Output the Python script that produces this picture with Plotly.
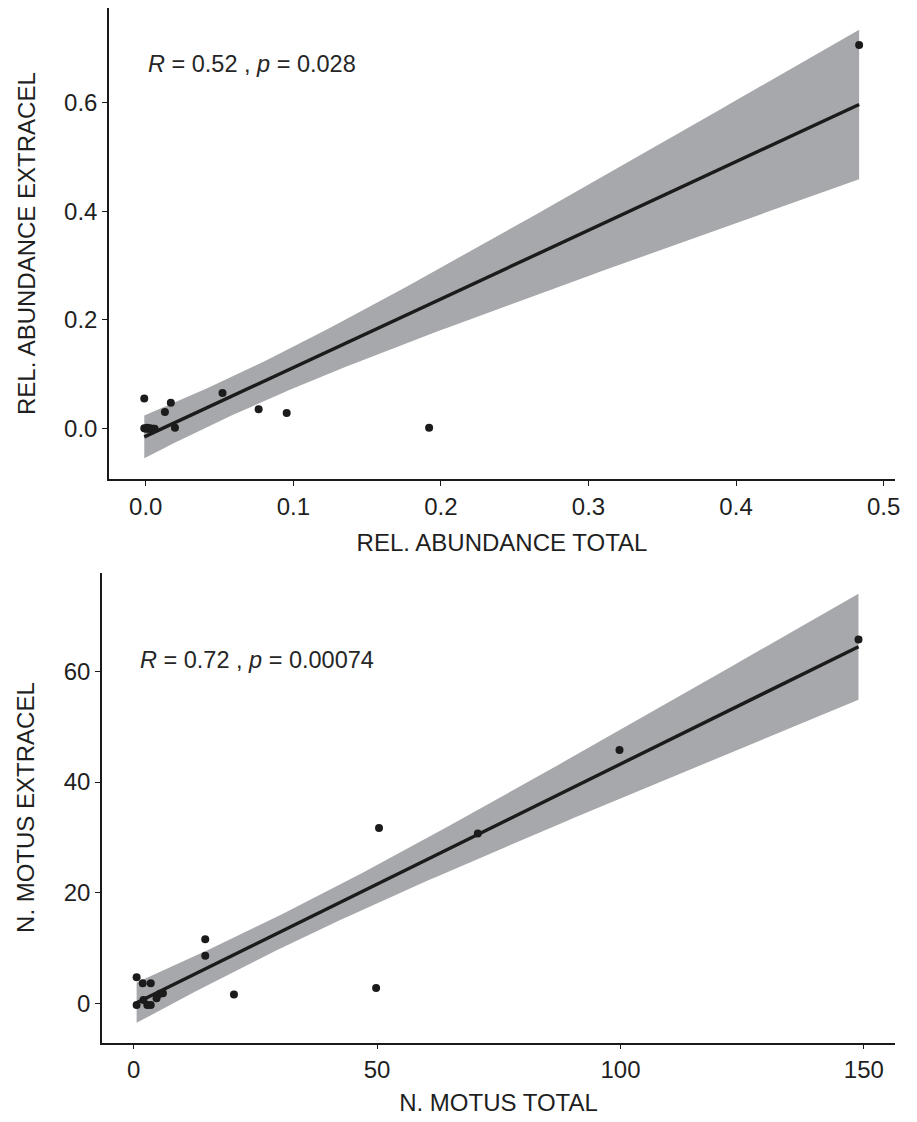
import math
import numpy as np
import plotly.graph_objects as go

# ---------------- data ----------------
rel_total = [-0.001, 0.017, 0.013, 0.052, 0.0765, 0.0955, 0.192, 0.4834, 0.0198,
             -0.001, 0.000, 0.001, 0.002, 0.003, 0.004, 0.005, 0.006, 0.001]
rel_extracel = [0.055, 0.047, 0.030, 0.065, 0.035, 0.028, 0.001, 0.707, 0.001,
                0.000, -0.001, 0.000, -0.001, 0.000, -0.002, -0.001, -0.001, 0.001]

motus_total = [148.9, 99.8, 50.4, 70.7, 49.8, 14.7, 14.7, 20.6,
               0.6, 1.85, 3.5, 0.6, 2.8, 3.5, 2.0, 4.7, 5.4, 6.0]
motus_extracel = [65.8, 45.8, 31.7, 30.7, 2.75, 11.6, 8.6, 1.6,
                  4.7, 3.6, 3.6, -0.3, -0.3, -0.3, 0.6, 0.9, 1.7, 1.8]

top_label = ["R", " = 0.52 , ", "p", " = 0.028"]
bottom_label = ["R", " = 0.72 , ", "p", " = 0.00074"]

top_xticks = [0.0, 0.1, 0.2, 0.3, 0.4, 0.5]
top_yticks = [0.0, 0.2, 0.4, 0.6]
bot_xticks = [0, 50, 100, 150]
bot_yticks = [0, 20, 40, 60]

FONT = "Liberation Sans, Arial, Helvetica, sans-serif"
DOT = "#1b1b1b"
RIBBON = "#a7a8ab"


def t_quantile(p, df):
    """Quantile of Student t via numeric integration + bisection."""
    c = math.gamma((df + 1) / 2) / (math.sqrt(df * math.pi) * math.gamma(df / 2))

    def cdf(t):
        xs = np.linspace(0, t, 4001)
        pdf = c * (1 + xs ** 2 / df) ** (-(df + 1) / 2)
        return 0.5 + np.trapezoid(pdf, xs)

    lo, hi = 0.0, 20.0
    for _ in range(80):
        mid = (lo + hi) / 2
        if cdf(mid) < p:
            lo = mid
        else:
            hi = mid
    return (lo + hi) / 2


def lm_band(x, y, n_out=100):
    x = np.asarray(x, float)
    y = np.asarray(y, float)
    n = len(x)
    b, a = np.polyfit(x, y, 1)
    resid = y - (a + b * x)
    s = math.sqrt(np.sum(resid ** 2) / (n - 2))
    sxx = np.sum((x - x.mean()) ** 2)
    xs = np.linspace(x.min(), x.max(), n_out)
    fit = a + b * xs
    se = s * np.sqrt(1 / n + (xs - x.mean()) ** 2 / sxx)
    t = t_quantile(0.975, n - 2)
    return xs, fit, fit - t * se, fit + t * se


def rich(parts):
    return "<i>%s</i>%s<i>%s</i>%s" % tuple(parts)


fig = go.Figure()

panels = [
    (rel_total, rel_extracel, "x", "y"),
    (motus_total, motus_extracel, "x2", "y2"),
]
for xv, yv, xa, ya in panels:
    xs, fit, lo, hi = lm_band(xv, yv)
    fig.add_trace(go.Scatter(
        x=np.concatenate([xs, xs[::-1]]), y=np.concatenate([hi, lo[::-1]]),
        fill="toself", fillcolor=RIBBON, line=dict(width=0), mode="lines",
        hoverinfo="skip", showlegend=False, xaxis=xa, yaxis=ya))
    fig.add_trace(go.Scatter(
        x=xv, y=yv, mode="markers",
        marker=dict(color=DOT, size=8, line=dict(width=0)),
        showlegend=False, xaxis=xa, yaxis=ya))
    fig.add_trace(go.Scatter(
        x=xs, y=fit, mode="lines", line=dict(color="#1b1b1b", width=3.4),
        showlegend=False, xaxis=xa, yaxis=ya))

# the page body has an 8px margin, so the figure starts at (8, 8) on the page
OFF = 8
W, H = 917 - OFF, 1122 - OFF


def px_x(p):
    return (p - OFF) / W


def px_y(p):
    return 1 - (p - OFF) / H


axis_common = dict(
    showline=True, linecolor="#1a1a1a", linewidth=1.5,
    ticks="outside", ticklen=5, tickwidth=1.3, tickcolor="#1a1a1a",
    showgrid=False, zeroline=False, automargin=False,
    tickfont=dict(family=FONT, size=24, color="#1f1f1f"),
)
title_font = dict(family=FONT, size=24, color="#1f1f1f")
ann_font = dict(family=FONT, size=23.5, color="#262626")

fig.update_layout(
    width=W, height=H,
    margin=dict(l=0, r=0, t=0, b=0, autoexpand=False),
    paper_bgcolor="white", plot_bgcolor="white",
    font=dict(family=FONT),
    xaxis=dict(domain=[px_x(109), px_x(895)], range=[-0.0249, 0.5077],
               tickvals=top_xticks, ticktext=["%.1f" % v for v in top_xticks],
               title=dict(text="REL. ABUNDANCE TOTAL", font=title_font, standoff=15),
               anchor="y", **axis_common),
    yaxis=dict(domain=[px_y(479.3), px_y(8)], range=[-0.0941, 0.775],
               tickvals=top_yticks, ticktext=["%.1f" % v for v in top_yticks],
               title=dict(text="REL. ABUNDANCE EXTRACEL", font=title_font, standoff=22),
               anchor="x", **axis_common),
    xaxis2=dict(domain=[px_x(102), px_x(895)], range=[-6.51, 156.4],
                tickvals=bot_xticks, ticktext=[str(v) for v in bot_xticks],
                title=dict(text="N. MOTUS TOTAL", font=title_font, standoff=12),
                anchor="y2", **axis_common),
    yaxis2=dict(domain=[px_y(1042.7), px_y(572.5)], range=[-7.13, 77.9],
                tickvals=bot_yticks, ticktext=[str(v) for v in bot_yticks],
                title=dict(text="N. MOTUS EXTRACEL", font=title_font, standoff=22),
                anchor="x2", **axis_common),
    annotations=[
        dict(text=rich(top_label), x=0.0, y=0.671, xref="x", yref="y",
             xanchor="left", yanchor="middle", showarrow=False, font=ann_font),
        dict(text=rich(bottom_label), x=0.9, y=62.1, xref="x2", yref="y2",
             xanchor="left", yanchor="middle", showarrow=False, font=ann_font),
    ],
)

fig.write_html("out.html")
